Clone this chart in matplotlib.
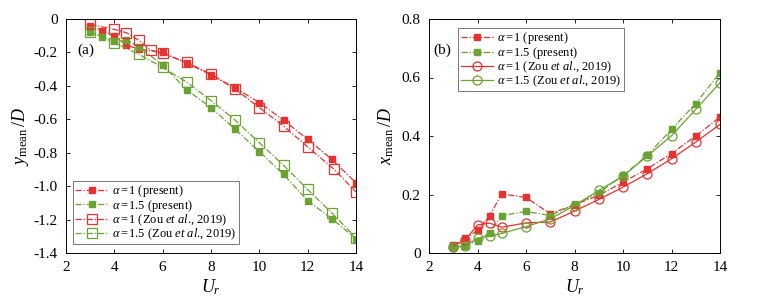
import matplotlib
matplotlib.use("Agg")
import matplotlib.pyplot as plt

plt.rcParams['font.family'] = ['Liberation Serif', 'DejaVu Serif']
plt.rcParams['mathtext.fontset'] = 'custom'
plt.rcParams['mathtext.rm'] = 'Liberation Serif'
plt.rcParams['mathtext.it'] = 'Liberation Serif:italic'
plt.rcParams['mathtext.bf'] = 'Liberation Serif:bold'

RED = '#e8322f'
GREEN = '#6aa333'

# Panel (a): y_mean/D
ur_present = [3, 3.5, 4, 4.5, 5, 6, 7, 8, 9, 10, 11, 12, 13, 14]
ya_a1_present = [-0.042, -0.07, -0.10, -0.156, -0.18, -0.20, -0.265, -0.333, -0.413, -0.50, -0.605, -0.72, -0.84, -0.98]
ya_a15_present = [-0.08, -0.106, -0.134, -0.125, -0.165, -0.276, -0.425, -0.53, -0.66, -0.793, -0.93, -1.087, -1.195, -1.315]
ur_zou_a1 = [3, 4, 4.5, 5, 5.5, 6, 7, 8, 9, 10, 11, 12, 13.1, 14]
ya_a1_zou = [-0.032, -0.062, -0.082, -0.126, -0.186, -0.206, -0.26, -0.33, -0.42, -0.53, -0.64, -0.765, -0.9, -1.035]
ur_zou_a15 = [3, 4, 5, 6, 7, 8, 9, 10, 11, 12, 13, 14]
ya_a15_zou = [-0.075, -0.142, -0.21, -0.29, -0.378, -0.488, -0.605, -0.74, -0.875, -1.02, -1.16, -1.31]

# Panel (b): x_mean/D
ur_b = [3, 3.5, 4, 4.5, 5, 6, 7, 8, 9, 10, 11, 12, 13, 14]
xb_a1_present = [0.027, 0.05, 0.077, 0.128, 0.202, 0.19, 0.134, 0.165, 0.197, 0.242, 0.288, 0.34, 0.40, 0.465]
xb_a15_present = [0.022, 0.025, 0.042, 0.069, 0.128, 0.142, 0.128, 0.166, 0.205, 0.265, 0.334, 0.423, 0.511, 0.617]
xb_a1_zou = [0.022, 0.045, 0.096, 0.102, 0.088, 0.103, 0.106, 0.143, 0.183, 0.225, 0.271, 0.322, 0.379, 0.44]
xb_a15_zou = [0.02, 0.023, 0.051, 0.057, 0.067, 0.09, 0.117, 0.162, 0.214, 0.263, 0.331, 0.401, 0.491, 0.582]

lab_a1p = r'$\alpha\,$=$\,$1 (present)'
lab_a15p = r'$\alpha\,$=$\,$1.5 (present)'
lab_a1z = r'$\alpha\,$=$\,$1 (Zou $et\ al$., 2019)'
lab_a15z = r'$\alpha\,$=$\,$1.5 (Zou $et\ al$., 2019)'

fig = plt.figure(figsize=(7.61, 3.03), dpi=100)
axa = fig.add_axes([66/761, 1-253/303, 290/761, 234/303])
axb = fig.add_axes([429/761, 1-253/303, 291/761, 234/303])

dash = (0, (5, 1.5, 1, 1.5))
lw = 0.9
ms_f = 5.0
ms_o = 6.5

axa.plot(ur_present, ya_a1_present, color=RED, ls=dash, lw=lw, marker='s', ms=ms_f, label=lab_a1p)
axa.plot(ur_present, ya_a15_present, color=GREEN, ls=dash, lw=lw, marker='s', ms=ms_f, label=lab_a15p)
axa.plot(ur_zou_a1, ya_a1_zou, color=RED, ls=dash, lw=lw, marker='s', ms=ms_o, mfc='none', mew=0.9, label=lab_a1z)
axa.plot(ur_zou_a15, ya_a15_zou, color=GREEN, ls=dash, lw=lw, marker='s', ms=ms_o, mfc='none', mew=0.9, label=lab_a15z)

axb.plot(ur_b, xb_a1_present, color=RED, ls=dash, lw=lw, marker='s', ms=ms_f, label=lab_a1p)
axb.plot(ur_b, xb_a15_present, color=GREEN, ls=dash, lw=lw, marker='s', ms=ms_f, label=lab_a15p)
axb.plot(ur_b, xb_a1_zou, color=RED, ls='-', lw=lw, marker='o', ms=ms_o, mfc='none', mew=0.9, label=lab_a1z)
axb.plot(ur_b, xb_a15_zou, color=GREEN, ls='-', lw=lw, marker='o', ms=ms_o, mfc='none', mew=0.9, label=lab_a15z)

for ax in (axa, axb):
    ax.set_xlim(2, 14)
    ax.set_xticks([2, 4, 6, 8, 10, 12, 14])
    ax.tick_params(direction='in', top=True, right=True, labelsize=11, length=3, width=0.6, pad=6)
    for s in ax.spines.values():
        s.set_linewidth(0.7)
    ax.set_xlabel(r'$U_r$', fontsize=13, labelpad=2)

axa.set_ylim(-1.4, 0)
axa.set_yticks([-1.4, -1.2, -1.0, -0.8, -0.6, -0.4, -0.2, 0])
axa.set_yticklabels(['-1.4', '-1.2', '-1.0', '-0.8', '-0.6', '-0.4', '-0.2', '0'])
axa.set_ylabel(r'$y_{\rm mean}\,/D$', fontsize=13, labelpad=2)
axa.text(0.038, 0.867, '(a)', transform=axa.transAxes, fontsize=11, va='center')

axb.set_ylim(0, 0.8)
axb.set_yticks([0, 0.2, 0.4, 0.6, 0.8])
axb.set_yticklabels(['0', '0.2', '0.4', '0.6', '0.8'])
axb.set_ylabel(r'$x_{\rm mean}\,/D$', fontsize=13, labelpad=4)
axb.text(0.014, 0.867, '(b)', transform=axb.transAxes, fontsize=11, va='center')

leg_kw = dict(fontsize=9, frameon=True, fancybox=False, edgecolor='#555555',
              handlelength=2.6, handletextpad=0.3, borderpad=0.2, labelspacing=-0.12,
              borderaxespad=0)
lega = axa.legend(loc='lower left', bbox_to_anchor=(0.024, 0.038), **leg_kw)
lega.get_frame().set_linewidth(0.7)
legb = axb.legend(loc='upper left', bbox_to_anchor=(0.0997, 0.962), **leg_kw)
legb.get_frame().set_linewidth(0.7)

fig.savefig('out.png', dpi=100)
